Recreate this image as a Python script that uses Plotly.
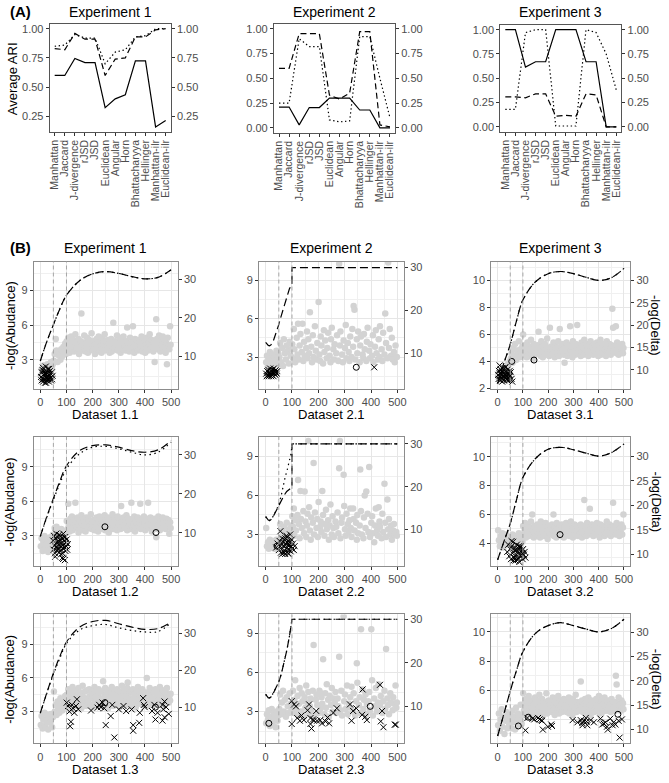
import plotly.graph_objects as go

W, H = 669, 783
FONT = "Liberation Sans, Arial, sans-serif"
TXT = "#4D4D4D"
TICKC = "#333333"
BORDER_A = "#555555"
BORDER_B = "#8C8C8C"
GRID = "#E6E6E6"
GRID_MINOR = "#F0F0F0"

# ---------------- data: panel (A) ----------------
METHODS = ["Manhattan", "Jaccard", "J-divergence", "rJSD", "JSD", "Euclidean",
           "Angular", "Horn", "Bhattacharyya", "Hellinger", "Manhattan-ilr", "Euclidean-ilr"]

EXP1_SOLID = [0.60, 0.60, 0.745, 0.71, 0.71, 0.325, 0.40, 0.435, 0.725, 0.725, 0.16, 0.215]
EXP1_DASHED = [0.83, 0.82, 0.96, 0.91, 0.91, 0.60, 0.74, 0.75, 0.93, 0.93, 0.99, 1.00]
EXP1_DOTTED = [0.85, 0.86, 0.95, 0.92, 0.92, 0.70, 0.80, 0.82, 0.93, 0.94, 1.00, 1.00]

EXP2_SOLID = [0.21, 0.21, 0.03, 0.205, 0.205, 0.30, 0.30, 0.30, 0.18, 0.18, 0.00, 0.00]
EXP2_DASHED = [0.60, 0.60, 0.95, 0.95, 0.95, 0.33, 0.29, 0.35, 0.97, 0.97, 0.03, 0.01]
EXP2_DOTTED = [0.25, 0.25, 0.90, 0.82, 0.82, 0.08, 0.06, 0.07, 0.92, 0.92, 0.50, 0.10]

EXP3_SOLID = [1.00, 1.00, 0.615, 0.67, 0.67, 1.00, 1.00, 1.00, 0.67, 0.67, 0.00, 0.00]
EXP3_DASHED = [0.31, 0.31, 0.30, 0.34, 0.34, 0.11, 0.12, 0.11, 0.34, 0.33, 0.00, 0.00]
EXP3_DOTTED = [0.18, 0.18, 0.97, 1.00, 1.00, 0.01, 0.01, 0.01, 1.00, 0.97, 0.75, 0.38]

# ---------------- data: panel (B) ----------------
THRESHOLDS = [50, 100]

GRAY_X = [2, 5, 9, 12, 16, 19, 23, 27, 30, 34, 38, 41, 45, 48,
          52, 55, 59, 62, 66, 69, 73, 77, 80, 84, 88, 91, 95, 98,
          101, 104, 107, 109, 112, 115, 118, 121, 123, 126, 129, 132, 134, 137, 140, 143, 146, 148, 151, 154,
          157, 159, 162, 165, 168, 171, 173, 176, 179, 182, 184, 187, 190, 193, 196, 198, 201, 204, 207, 209,
          212, 215, 218, 221, 223, 226, 229, 232, 234, 237, 240, 243, 246, 248, 251, 254, 257, 259, 262, 265,
          268, 271, 273, 276, 279, 282, 284, 287, 290, 293, 296, 298, 301, 304, 307, 309, 312, 315, 318, 321,
          323, 326, 329, 332, 334, 337, 340, 343, 346, 348, 351, 354, 357, 359, 362, 365, 368, 371, 373, 376,
          379, 382, 384, 387, 390, 393, 396, 398, 401, 404, 407, 409, 412, 415, 418, 421, 423, 426, 429, 432,
          434, 437, 440, 443, 446, 448, 451, 454, 457, 459, 462, 465, 468, 471, 473, 476, 479, 482, 484, 487,
          490, 493, 496, 498]

D11_GRAY = [1.6, 2.2, 1.4, 2.5, 1.9, 1.3, 2.1, 2.6, 1.7, 2.3, 2.5, 2.8, 2.2, 2.6,
            2.9, 3.5, 4.8, 3.8, 2.8, 3.4, 3.6, 3.0, 3.9, 3.3, 4.1, 3.7, 4.4, 3.5,
            4.6, 3.8, 4.9, 4.2, 3.6, 4.4, 5.0, 3.9, 4.3, 4.7, 3.7, 4.1, 5.2, 4.5, 3.9, 4.0, 4.8, 3.5, 4.3, 4.6,
            7.0, 4.2, 3.8, 4.5, 5.1, 4.0, 3.7, 4.4, 4.9, 3.6, 4.1, 4.7, 3.9, 4.3, 5.3, 4.0, 3.8, 4.6, 4.2, 3.5,
            4.4, 4.8, 3.9, 4.1, 5.0, 3.7, 4.5, 4.2, 3.6, 4.9, 4.0, 4.3, 5.2, 3.8, 4.6, 4.1, 3.9, 4.7, 4.4, 3.6,
            4.2, 4.8, 3.7, 4.5, 6.2, 4.0, 3.9, 4.6, 4.3, 5.1, 3.8, 4.4, 4.0, 4.9, 3.6, 4.2, 4.7, 3.9, 5.0, 4.3,
            4.1, 3.8, 4.6, 5.8, 4.0, 4.4, 3.7, 4.9, 4.2, 3.9, 4.5, 5.9, 4.1, 3.6, 4.8, 4.3, 4.0, 4.7, 3.8, 4.4,
            4.6, 3.9, 4.2, 5.0, 3.7, 4.4, 4.1, 4.8, 3.6, 4.3, 4.9, 4.0, 3.8, 4.5, 5.2, 4.2, 3.9, 4.7, 4.1, 3.7,
            4.5, 2.8, 4.2, 6.5, 4.8, 3.9, 4.4, 5.1, 4.0, 3.7, 4.6, 4.3, 5.0, 3.8, 4.1, 4.7, 3.6, 4.4, 2.6, 4.9,
            4.2, 3.9, 5.9, 4.3]
D12_GRAY = [2.1, 2.8, 1.7, 2.5, 3.0, 1.9, 2.3, 2.7, 1.6, 2.4, 2.9, 2.0, 2.6, 3.1,
            2.4, 3.7, 2.2, 3.8, 2.6, 3.5, 2.0, 2.9, 3.6, 2.3, 3.1, 2.7, 3.4, 2.5,
            4.3, 3.6, 5.8, 4.0, 3.4, 4.5, 3.9, 4.7, 3.5, 4.1, 4.4, 3.7, 5.9, 4.2, 3.8, 4.6, 3.3, 4.0, 4.3, 3.6,
            4.8, 4.1, 3.5, 4.4, 3.9, 4.2, 3.4, 4.6, 4.0, 3.7, 4.5, 3.8, 4.3, 4.9, 3.6, 4.1, 3.9, 4.4, 3.5, 4.2,
            3.8, 4.6, 4.0, 3.4, 4.3, 4.7, 3.7, 4.1, 3.9, 4.5, 3.6, 4.2, 4.8, 3.5, 4.0, 4.4, 3.8, 4.6, 3.3, 4.1,
            4.4, 3.7, 4.2, 4.9, 3.6, 4.0, 4.5, 3.8, 4.3, 3.5, 4.7, 4.1, 3.9, 4.4, 3.6, 5.6, 4.2, 3.8, 4.6, 4.0,
            3.7, 4.3, 4.8, 3.5, 4.1, 4.5, 3.9, 4.2, 3.6, 5.9, 4.4, 3.8, 4.0, 4.7, 3.4, 4.3, 4.1, 3.7, 4.6, 3.9,
            4.2, 5.8, 3.6, 4.4, 4.0, 3.8, 4.7, 4.1, 3.5, 4.3, 4.5, 3.9, 5.9, 4.2, 3.7, 4.6, 4.0, 3.4, 4.4, 3.8,
            4.1, 4.5, 3.6, 2.9, 4.3, 3.9, 4.7, 4.0, 3.5, 4.2, 4.4, 3.7, 4.6, 4.1, 3.8, 4.3, 3.6, 4.5, 4.0, 3.9,
            4.4, 3.2, 4.2, 3.7]
D13_GRAY = [1.8, 2.6, 1.5, 2.3, 2.9, 1.7, 2.1, 2.7, 1.4, 2.4, 2.0, 2.8, 1.6, 2.5,
            4.8, 3.0, 3.6, 2.7, 3.9, 3.3, 2.9, 4.2, 3.5, 3.1, 4.0, 3.7, 4.4, 3.4,
            4.5, 3.4, 5.0, 4.1, 3.7, 4.8, 3.2, 4.3, 5.2, 3.9, 4.6, 3.5, 4.2, 4.9, 3.8, 4.4, 5.1, 3.6, 4.0, 4.7,
            3.3, 4.5, 5.3, 4.0, 3.7, 4.8, 4.2, 3.5, 4.9, 4.1, 3.9, 5.0, 4.4, 3.6, 4.7, 4.2, 3.4, 4.6, 5.2, 3.8,
            4.3, 4.9, 3.6, 4.5, 5.0, 3.9, 4.2, 3.5, 4.8, 4.1, 5.7, 3.7, 4.4, 5.1, 3.8, 4.6, 4.0, 3.3, 4.9, 4.3,
            3.8, 4.7, 5.2, 4.0, 3.5, 4.4, 4.9, 3.9, 4.2, 5.0, 3.6, 4.5, 4.1, 3.4, 4.8, 4.3, 5.3, 3.7, 4.6, 4.0,
            4.9, 3.6, 4.4, 5.1, 5.6, 3.9, 4.7, 4.2, 3.5, 4.8, 4.0, 5.0, 3.7, 4.3, 4.6, 3.4, 4.9, 4.1, 5.2, 3.8,
            4.4, 3.7, 4.8, 4.1, 5.0, 3.6, 4.5, 4.2, 3.9, 4.7, 6.0, 4.0, 3.5, 4.6, 5.1, 4.3, 3.8, 4.9, 4.1, 3.6,
            4.7, 4.2, 5.0, 3.9, 4.4, 3.6, 4.8, 4.1, 5.2, 3.7, 4.5, 4.0, 4.9, 3.5, 4.3, 4.7, 3.9, 4.6, 5.1, 4.2,
            3.8, 4.4, 4.0, 4.6]
D21_GRAY = [2.6, 3.1, 2.3, 2.9, 3.4, 2.5, 2.8, 3.2, 2.4, 3.0, 2.7, 3.5, 2.5, 3.3,
            3.0, 4.1, 2.6, 3.7, 2.3, 4.4, 3.3, 2.8, 3.9, 3.5, 2.5, 4.2, 3.1, 3.6,
            4.0, 2.9, 5.2, 3.6, 2.6, None, 4.5, 3.2, 5.6, 2.8, 3.9, 4.8, None, 3.4, 5.6, 2.7, 4.2, 3.1, None, 3.7,
            5.0, 2.9, 4.4, 3.3, 6.5, None, 3.8, 2.6, 4.7, 3.0, None, 5.4, 3.5, 2.8, 4.1, None, 7.3, 3.2, 2.7, 4.6,
            3.9, None, 2.5, 5.1, 3.4, 4.3, None, 2.9, 3.7, 4.9, None, 3.1, 2.6, 4.4, 5.3, None, 3.6, 2.8, 4.0, None,
            3.3, 4.7, None, 2.7, 10.3, 3.9, 5.0, None, 3.2, 2.6, 4.3, None, 3.7, 5.5, 2.9, None, 4.1, 3.4, 2.7, 4.6,
            None, 3.0, 5.2, 3.8, 7.0, 6.7, 2.8, None, 4.4, 3.3, 5.0, None, 2.6, 3.9, 4.6, None, 3.2, 2.9, 4.8, 3.6,
            None, 2.7, 4.2, 5.3, None, 3.5, 2.9, 4.0, None, 3.1, 4.7, 2.6, None, 3.8, 5.1, 3.3, None, 2.8, 4.4, 3.0,
            5.4, None, 3.6, 2.7, 4.9, None, 3.2, 6.4, 4.1, None, 2.9, 10.4, 3.7, 5.2, None, 3.1, 4.5, 2.8, None, 3.4,
            2.6, 3.9, None, 3.0]
D22_GRAY = [3.5, 2.1, 2.4, 1.9, 2.6, 2.2, 2.0, 2.5, 2.3, 1.9, 2.1, 2.6, 2.2, 2.4,
            2.6, 3.8, 2.2, 3.3, 2.9, 3.6, 2.4, 3.1, 3.9, 2.7, 3.4, 2.3, 3.0, 3.7,
            4.4, 3.6, 5.0, 2.9, 4.1, 3.3, None, 4.5, 7.2, 3.8, 2.7, 6.35, 4.2, 3.5, None, 4.8, 3.1, 6.3, 4.0, 2.8,
            3.7, 4.6, 10.2, 5.1, 3.3, 2.6, 4.3, None, 3.9, 8.5, 3.0, 4.7, None, 3.5, 4.2, 2.8, 5.5, None, 3.6, 4.0,
            3.2, 6.35, 4.5, None, 2.9, 3.8, 4.9, 3.4, None, 4.1, 2.6, 3.7, 5.3, None, 3.0, 4.4, 3.5, 2.8, None, 4.0,
            3.6, None, 4.7, 3.1, 8.1, 10.2, 2.7, 3.9, 4.3, None, 7.6, 5.2, 3.4, 2.9, 4.6, None, 3.8, 3.2, 4.1, 5.0,
            3.5, 2.8, None, 5.0, 4.2, 3.3, None, 3.9, 2.6, 4.5, 3.1, None, 3.7, 8.0, 4.8, 3.0, None, 2.7, 4.3, 6.0,
            3.5, 6.3, None, 4.6, 3.2, 8.2, 2.8, None, 3.9, 4.4, 3.1, None, 2.4, 3.7, 5.0, None, 3.3, 2.9, 5.1, 4.0,
            3.6, None, 2.7, 4.6, 3.2, None, 6.9, 3.9, 2.8, None, 5.7, 3.4, 4.2, None, 3.0, 3.7, 2.6, None, 3.3, 3.8,
            3.0, None, 3.2, 2.9]
D23_GRAY = [2.1, 2.8, 2.4, 3.1, 1.9, 2.6, 3.2, 2.2, 2.9, 2.5, 1.8, 3.0, 2.3, 2.7,
            3.2, 4.3, 2.8, 3.7, 4.6, 3.0, 3.9, 2.6, 4.1, 3.4, 2.9, 4.4, 3.6, 3.1,
            3.5, 4.6, 2.9, 3.9, 5.4, 3.2, None, 4.2, 2.7, 3.6, 4.8, None, 3.0, 4.4, 3.8, None, 2.6, 4.1, 3.3, 5.0,
            None, 3.7, 4.5, 2.8, 3.4, 4.0, 3.1, None, 4.6, 8.1, 2.7, None, 3.9, 4.3, 3.5, None, 2.9, 4.6, 3.2, 4.4,
            4.1, 3.6, 7.0, None, 2.8, 4.4, 3.3, 5.1, None, 3.9, 2.6, 4.2, None, 3.5, 4.8, 3.0, 4.0, None, 3.7, 4.5,
            2.9, None, 4.0, 3.4, 7.2, None, 3.1, 4.6, 2.7, None, 10.3, 3.8, 4.3, 3.2, None, 5.0, 2.8, 3.6, None, 4.1,
            3.3, 4.9, None, 3.0, 4.4, None, 2.7, 3.8, 6.7, 5.2, None, 3.5, 4.1, 2.9, 9.3, None, 4.7, 3.2, 3.9, None,
            4.3, 2.8, 3.6, None, 3.8, 4.5, 3.1, None, 9.3, 5.4, 2.7, None, 4.0, 3.4, 4.8, None, 3.0, 3.7, 5.1, None,
            3.5, 4.2, None, 2.9, 3.8, None, 4.6, 3.2, 7.8, None, 4.0, 3.5, 2.8, None, 4.4, 3.7, None, 3.1, 4.1, 3.6,
            None, 5.0, 3.3, 3.7]
D31_GRAY = [2.9, 3.2, 2.7, 3.1, 3.4, 2.8, 3.0, 3.3, 2.6, 3.5, 3.1, 3.8, 3.2, 4.0,
            4.2, 4.6, 3.9, 5.0, 4.4, 5.3, 4.1, 4.8, 4.5, 5.5, 4.3, 4.9, 4.7, 5.1,
            6.0, 4.8, 5.2, 4.5, 5.0, 4.3, 5.4, 4.7, 5.1, 4.4, 4.9, 5.6, 4.6, 5.0, 4.2, 5.3, 4.8, 4.5, 5.1, 4.7,
            4.9, 5.2, 6.2, 4.6, 5.0, 4.4, 5.5, 4.8, 4.3, 5.1, 4.7, 5.3, 4.5, 4.9, 5.7, 4.6, 5.0, 4.4, 6.5, 4.8,
            5.1, 4.5, 4.9, 5.4, 4.7, 4.3, 5.2, 4.8, 5.0, 4.6, 5.5, 4.4, 6.4, 4.9, 5.1, 4.6, 4.8, 5.3, 4.5, 3.9,
            5.0, 4.7, 5.4, 4.4, 4.9, 5.2, 4.6, 6.6, 4.8, 5.1, 4.3, 5.5, 4.7, 5.0, 4.5, 5.3, 4.9, 6.7, 4.6, 5.2,
            4.8, 5.0, 4.4, 5.4, 4.7, 5.1, 4.5, 5.6, 4.9, 4.6, 5.3, 4.8, 5.0, 4.4, 5.2, 4.7, 5.5, 4.9, 4.6, 5.1,
            4.5, 5.3, 4.8, 5.0, 4.6, 5.4, 4.9, 4.4, 5.2, 4.7, 5.6, 4.5, 5.0, 4.8, 5.3, 4.6, 5.1, 4.9, 4.4, 5.5,
            4.8, 5.0, 4.6, 5.3, 4.9, 4.5, 5.2, 7.9, 6.5, 4.7, 5.1, 4.8, 6.6, 4.6, 5.4, 4.9, 4.5, 5.2, 4.7, 5.0,
            4.8, 5.3, 4.6, 5.0]
D32_GRAY = [4.9, 4.2, 3.8, 4.5, 4.0, 4.7, 3.7, 4.3, 4.1, 4.6, 3.9, 4.4, 4.0, 4.2,
            4.4, 3.8, 4.6, 4.1, 3.7, 4.5, 4.0, 4.3, 3.9, 4.7, 4.2, 3.8, 4.5, 4.1,
            5.2, 4.6, 4.9, 5.4, 4.4, 5.0, 4.7, 5.3, 4.5, 5.1, 4.8, 5.5, 4.6, 6.0, 4.9, 4.4, 5.2, 4.7, 5.0, 4.5,
            5.3, 4.8, 4.6, 5.1, 4.4, 5.5, 4.9, 4.7, 5.2, 4.5, 5.0, 4.8, 5.4, 4.6, 5.1, 4.3, 4.9, 5.2, 4.7, 5.0,
            4.6, 5.3, 4.9, 6.0, 4.5, 5.1, 4.8, 4.4, 5.4, 4.7, 5.0, 4.6, 5.2, 4.9, 4.5, 5.3, 4.8, 5.0, 4.4, 5.1,
            4.7, 5.4, 4.9, 4.6, 5.2, 4.8, 4.5, 5.0, 5.5, 4.7, 5.1, 4.4, 4.9, 5.3, 4.6, 5.0, 4.8, 5.2, 4.5, 4.9,
            5.1, 4.6, 5.3, 4.8, 4.4, 5.0, 4.7, 7.0, 5.2, 4.9, 4.5, 5.4, 4.8, 5.1, 4.6, 6.4, 5.0, 4.7, 5.3, 4.9,
            4.5, 5.2, 4.8, 5.0, 4.6, 5.4, 4.9, 4.7, 5.1, 4.4, 5.3, 4.8, 5.0, 4.6, 5.2, 4.9, 4.5, 5.1, 4.7, 5.5,
            4.8, 5.0, 4.6, 5.3, 4.9, 4.5, 5.1, 4.7, 6.8, 5.2, 4.8, 5.0, 4.6, 5.4, 4.9, 4.7, 5.2, 4.5, 5.0, 4.8,
            5.3, 4.6, 5.1, 6.0]
D33_GRAY = [3.6, 4.4, 3.2, 4.0, 4.7, 3.5, 4.2, 3.0, 3.9, 4.5, 3.4, 4.1, 3.7, 4.3,
            4.0, 3.4, 4.6, 3.8, 4.2, 3.3, 4.8, 3.9, 4.4, 3.6, 4.1, 5.0, 3.7, 4.3,
            5.8, 4.6, 5.1, 4.3, 5.4, 4.8, 5.0, 4.4, 5.6, 4.7, 5.2, 4.5, 4.9, 5.3, 4.2, 5.0, 4.7, 5.5, 4.6, 5.1,
            4.4, 5.3, 4.8, 5.7, 4.5, 5.0, 4.9, 5.4, 4.3, 5.2, 4.7, 5.1, 4.6, 5.8, 4.4, 4.9, 5.3, 4.6, 5.0, 4.8,
            5.2, 4.5, 5.5, 4.7, 5.0, 4.3, 5.4, 4.8, 5.1, 4.6, 5.6, 4.4, 5.0, 4.9, 5.3, 4.5, 5.1, 4.7, 5.4, 4.6,
            4.9, 5.3, 4.5, 5.0, 4.8, 5.5, 4.4, 5.2, 4.7, 5.1, 4.3, 5.4, 4.9, 4.6, 5.0, 5.7, 4.5, 5.2, 4.8, 5.0,
            4.6, 5.1, 6.6, 4.8, 5.3, 4.5, 5.0, 4.7, 5.4, 4.4, 5.2, 4.9, 4.6, 5.5, 4.8, 5.0, 4.3, 5.3, 4.7, 5.1,
            4.9, 4.5, 5.2, 4.7, 5.4, 4.6, 5.0, 4.8, 5.6, 4.4, 5.1, 4.9, 5.3, 4.5, 5.0, 4.7, 5.5, 4.6, 5.2, 4.8,
            5.0, 4.6, 5.3, 4.9, 5.1, 4.5, 5.4, 4.7, 5.0, 4.8, 5.2, 4.6, 7.0, 6.4, 5.1, 4.9, 5.5, 4.7, 5.0, 4.6,
            5.3, 4.8, 5.1, 4.7]

# black crosses and open circles (x, -log(Abudance))
D11_CROSS_X = [3, 5, 6, 8, 9, 11, 12, 14, 15, 17, 18, 20, 21, 23, 24, 26, 27, 29, 30, 32, 33, 35, 36, 38, 39, 41, 42, 44, 45, 47, 10, 22, 34, 16, 28]
D11_CROSS_Y = [1.5, 1.2, 1.9, 1.4, 2.1, 1.1, 1.7, 1.3, 2.0, 1.6, 1.0, 1.8, 2.4, 1.4, 1.2, 1.9, 1.5, 2.2, 1.3, 1.7, 1.1, 1.6, 2.0, 1.4, 1.8, 1.2, 1.5, 1.9, 1.3, 1.6, 2.3, 1.0, 2.2, 1.8, 1.4]
D11_RING_X = []
D11_RING_Y = []

D12_CROSS_X = [49, 51, 53, 55, 56, 58, 60, 61, 63, 65, 66, 68, 70, 71, 73, 75, 76, 78, 80, 81, 83, 85, 86, 88, 90, 91, 93, 95, 96, 98, 100, 101, 103, 105, 57, 64, 72, 79, 87, 94, 84, 92]
D12_CROSS_Y = [2.6, 1.8, 3.0, 2.2, 1.5, 2.8, 2.0, 3.2, 1.7, 2.5, 2.9, 1.9, 2.3, 3.1, 1.6, 2.7, 2.1, 3.0, 1.8, 2.4, 2.8, 1.5, 2.2, 3.2, 1.9, 2.6, 2.0, 2.9, 1.7, 2.4, 2.1, 2.7, 1.8, 2.3, 1.2, 2.0, 2.5, 1.4, 1.0, 0.9, 1.1, 2.9]
D12_RING_X = [247, 442]
D12_RING_Y = [3.8, 3.3]

D13_CROSS_X = [101, 106, 111, 114, 117, 121, 125, 130, 136, 140, 145, 194, 219, 225, 232, 238, 244, 250, 269, 275, 283, 300, 318, 328, 349, 355, 355, 378, 380, 393, 396, 399, 427, 436, 440, 448, 467, 470, 467, 475, 475, 481, 491]
D13_CROSS_Y = [3.8, 3.5, 3.0, 1.7, 2.1, 3.6, 3.3, 2.9, 3.5, 4.1, 3.2, 3.1, 3.35, 3.6, 3.4, 3.8, 3.3, 1.8, 2.6, 3.6, 0.7, 3.2, 3.5, 3.05, 3.2, 1.8, 1.3, 2.0, 2.9, 4.2, 3.6, 3.4, 3.05, 3.6, 2.3, 2.9, 3.6, 3.2, 2.2, 2.5, 3.9, 3.4, 2.8]
D13_RING_X = [247, 440]
D13_RING_Y = [3.8, 3.4]

D21_CROSS_X = [2, 4, 6, 8, 10, 12, 13, 15, 17, 19, 21, 22, 24, 26, 28, 30, 31, 33, 35, 37, 39, 40, 42, 44, 412]
D21_CROSS_Y = [1.7, 1.5, 1.9, 1.6, 2.0, 1.5, 1.8, 1.6, 2.1, 1.7, 1.5, 1.9, 1.6, 2.0, 1.8, 1.5, 2.1, 1.7, 1.9, 1.6, 2.0, 1.8, 1.7, 1.9, 2.2]
D21_RING_X = [20, 36, 344]
D21_RING_Y = [1.9, 1.8, 2.2]

D22_CROSS_X = [40, 45, 50, 53, 56, 58, 60, 62, 64, 66, 68, 70, 72, 74, 76, 78, 80, 82, 84, 86, 88, 90, 92, 93, 95, 97, 99, 101, 104, 107, 110, 63, 71, 79, 87, 94, 83, 75]
D22_CROSS_Y = [2.0, 2.3, 1.8, 2.5, 3.25, 1.6, 2.2, 2.7, 1.9, 2.4, 1.7, 2.1, 2.6, 1.5, 2.3, 1.9, 2.8, 2.0, 1.6, 2.5, 2.2, 1.8, 2.4, 3.0, 1.7, 2.1, 2.6, 1.9, 2.3, 1.8, 2.1, 1.5, 1.6, 2.9, 1.5, 2.0, 2.4, 2.7]
D22_RING_X = [43]
D22_RING_Y = [2.1]

D23_CROSS_X = [99, 108, 115, 99, 120, 130, 136, 145, 159, 165, 170, 174, 180, 192, 195, 207, 214, 227, 235, 241, 257, 270, 320, 326, 332, 344, 368, 366, 378, 384, 434, 437, 442, 447, 490, 494, 170, 183]
D23_CROSS_Y = [3.8, 3.55, 3.4, 2.05, 2.5, 2.3, 2.7, 2.35, 3.1, 3.55, 2.05, 1.7, 2.4, 3.05, 2.3, 2.35, 2.1, 2.25, 2.55, 2.1, 2.9, 3.25, 3.55, 2.3, 3.05, 3.25, 4.7, 2.75, 2.6, 2.35, 5.05, 2.25, 3.05, 1.8, 2.0, 2.0, 2.5, 2.3]
D23_RING_X = [12, 397]
D23_RING_Y = [2.1, 3.4]

D31_CROSS_X = [2, 4, 5, 7, 9, 10, 12, 14, 15, 17, 19, 20, 22, 24, 25, 27, 29, 30, 32, 34, 35, 37, 39, 40, 42, 44, 45, 47, 49, 52, 55, 58, 8, 18, 28, 38, 48, 13, 23, 33]
D31_CROSS_Y = [3.0, 2.7, 3.3, 2.9, 3.1, 2.6, 3.4, 2.8, 3.0, 3.2, 2.7, 3.5, 2.9, 3.1, 2.6, 3.3, 3.0, 2.8, 3.6, 2.9, 3.2, 2.7, 3.0, 3.4, 2.8, 3.1, 2.6, 3.0, 2.9, 3.2, 2.7, 2.5, 3.7, 2.5, 3.5, 2.6, 3.3, 3.1, 2.9, 3.0]
D31_RING_X = [56, 144]
D31_RING_Y = [4.0, 4.1]

D32_CROSS_X = [38, 42, 46, 50, 53, 56, 59, 61, 64, 66, 69, 71, 74, 76, 79, 81, 84, 86, 89, 91, 94, 96, 99, 101, 104, 107, 110, 55, 63, 72, 80, 88, 97, 68, 85]
D32_CROSS_Y = [3.4, 3.9, 3.1, 3.6, 2.9, 3.8, 3.3, 4.1, 3.0, 3.5, 3.7, 2.8, 3.2, 3.9, 3.4, 3.0, 3.6, 2.7, 3.3, 3.8, 3.1, 3.5, 2.9, 3.6, 3.2, 3.4, 3.0, 4.15, 2.8, 3.5, 2.9, 3.7, 3.3, 3.0, 3.8]
D32_RING_X = [247]
D32_RING_Y = [4.6]

D33_CROSS_X = [110, 118, 138, 160, 166, 173, 179, 199, 212, 297, 316, 329, 336, 342, 349, 355, 368, 381, 407, 414, 427, 433, 436, 446, 459, 466, 479, 492, 483, 145, 176, 215, 335, 352, 420, 455]
D33_CROSS_Y = [3.25, 4.1, 4.05, 4.1, 4.0, 3.95, 3.3, 3.5, 3.65, 3.95, 3.8, 3.95, 3.6, 3.9, 4.1, 3.6, 3.95, 3.8, 4.05, 3.65, 3.8, 3.5, 3.3, 4.05, 3.8, 3.65, 3.9, 4.0, 2.75, 4.0, 3.9, 3.55, 3.75, 3.85, 3.7, 3.6]
D33_RING_X = [82, 121, 476]
D33_RING_Y = [3.55, 4.15, 4.35]

# smooth curves, secondary axis -log(Delta)
CURVE_X = [0, 25, 50, 75, 100, 150, 200, 250, 300, 350, 400, 450, 500]
D11_DASH = [8.7, 13.8, 18.2, 22.4, 25.9, 29.7, 31.5, 32.1, 31.6, 30.8, 30.2, 30.6, 32.6]
D11_DOT = [8.7, 13.8, 18.2, 22.4, 25.9, 29.7, 31.5, 32.1, 31.6, 30.8, 30.2, 30.6, 32.6]
D12_DASH = [9.1, 14.2, 18.8, 23.3, 27.2, 31.1, 32.4, 32.6, 32.0, 31.1, 30.7, 31.3, 33.7]
D12_DOT = [9.1, 14.0, 18.5, 22.7, 26.4, 30.3, 32.0, 32.2, 31.6, 30.7, 30.0, 30.7, 33.3]
D13_DASH = [8.5, 14.0, 19.2, 23.8, 27.6, 31.6, 33.1, 33.4, 32.5, 31.6, 31.0, 31.2, 32.9]
D13_DOT = [8.5, 13.8, 18.9, 23.3, 27.2, 30.8, 32.0, 32.3, 31.4, 30.7, 30.3, 30.4, 32.8]
D31_DASH = [6.9, 11.5, 15.7, 21.0, 25.6, 29.7, 31.5, 32.0, 31.5, 30.7, 30.0, 30.6, 32.7]
D31_DOT = [6.9, 11.5, 15.7, 21.0, 25.6, 29.7, 31.5, 32.0, 31.5, 30.7, 30.0, 30.6, 32.7]
D32_DASH = [8.85, 12.6, 16.3, 21.2, 25.7, 29.6, 31.5, 31.9, 31.4, 30.7, 30.1, 30.8, 32.6]
D32_DOT = [8.85, 12.6, 16.3, 21.2, 25.7, 29.6, 31.5, 31.9, 31.4, 30.7, 30.1, 30.8, 32.6]
D33_DASH = [8.6, 13.2, 17.9, 22.2, 26.0, 29.8, 31.4, 32.0, 31.4, 30.7, 30.1, 30.8, 32.7]
D33_DOT = [8.6, 13.2, 17.9, 22.2, 26.0, 29.8, 31.4, 32.0, 31.4, 30.7, 30.1, 30.8, 32.7]

D21_DASH_X = [0, 5, 10, 15, 20, 30, 40, 50, 60, 70, 80, 90, 97, 100, 100, 500]
D21_DASH = [12.5, 12.0, 11.8, 11.7, 11.9, 13.0, 14.7, 16.7, 18.9, 21.1, 23.2, 25.0, 25.9, 26.1, 30, 30]
D22_DASH_X = [0, 5, 10, 15, 20, 30, 40, 50, 60, 70, 80, 90, 99, 100, 100, 500]
D22_DASH = [13.0, 12.5, 12.2, 12.1, 12.3, 13.2, 14.4, 15.7, 16.9, 18.0, 18.9, 19.5, 19.8, 19.8, 30, 30]
D22_DOT_X = [0, 5, 10, 15, 20, 30, 40, 50, 60, 68, 75, 81, 86, 91, 97, 100, 500]
D22_DOT = [13.0, 12.5, 12.2, 12.1, 12.3, 13.2, 14.4, 15.8, 18.2, 21.0, 22.5, 23.7, 25.0, 26.4, 27.9, 30, 30]
D23_DASH_X = [0, 5, 10, 15, 20, 30, 40, 50, 60, 70, 80, 90, 99, 100, 500]
D23_DASH = [12.8, 12.3, 12.0, 12.0, 12.2, 13.2, 14.4, 15.7, 17.6, 20.0, 22.8, 26.0, 29.0, 30, 30]
D23_DOT_X = [0, 5, 10, 15, 20, 30, 40, 50, 60, 70, 80, 90, 99, 100, 500]
D23_DOT = [12.8, 12.3, 12.0, 12.0, 12.2, 13.2, 14.4, 15.7, 17.6, 20.0, 22.8, 26.0, 29.0, 30, 30]

# ---------------- helpers ----------------
def axname(letter, n):
    return f"{letter}axis" if n == 1 else f"{letter}axis{n}"


def axref(letter, n):
    return letter if n == 1 else f"{letter}{n}"


def dx(a, b):
    return [a / W, b / W]


def dy(top, bot):
    return [1 - bot / H, 1 - top / H]


fig = go.Figure()
lay = {}
anns = []
shapes = []


def add_text(text, px, py, size=12.5, angle=0, color="black", bold=False, xanchor="center"):
    anns.append(dict(text=f"<b>{text}</b>" if bold else text, x=px / W, y=1 - py / H,
                     xref="paper", yref="paper", showarrow=False, textangle=angle,
                     xanchor=xanchor, yanchor="middle",
                     font=dict(family=FONT, size=size, color=color)))


TICKFONT = dict(family=FONT, size=11, color=TXT)

# ---------------- panel A ----------------
A_SERIES = [(EXP1_SOLID, EXP1_DASHED, EXP1_DOTTED),
            (EXP2_SOLID, EXP2_DASHED, EXP2_DOTTED),
            (EXP3_SOLID, EXP3_DASHED, EXP3_DOTTED)]
A_BOX = [(48, 170, 23, 132), (274, 396, 23, 133), (502, 624, 24, 132)]
A_RANGE = [[0.118, 1.042], [-0.05, 1.05], [-0.05, 1.05]]
A_TICKS = [[0.25, 0.5, 0.75, 1.0], [0, 0.25, 0.5, 0.75, 1.0], [0, 0.25, 0.5, 0.75, 1.0]]
A_DASH = ["solid", "6px,3.5px", "1.4px,2.6px"]

for i in range(3):
    xn, yln, yrn = i + 1, 2 * i + 1, 2 * i + 2
    x0, x1, t, b = A_BOX[i]
    for vals, dash in zip(A_SERIES[i], A_DASH):
        fig.add_trace(go.Scatter(x=METHODS, y=vals, mode="lines",
                                 line=dict(color="black", width=1.2, dash=dash),
                                 xaxis=axref("x", xn), yaxis=axref("y", yln),
                                 showlegend=False, hoverinfo="skip"))
    fig.add_trace(go.Scatter(x=[METHODS[0]], y=[None], mode="lines", xaxis=axref("x", xn),
                             yaxis=axref("y", yrn), showlegend=False, hoverinfo="skip"))
    lay[axname("x", xn)] = dict(domain=dx(x0, x1), anchor=axref("y", yln), type="category",
                                categoryorder="array", categoryarray=METHODS, range=[-0.5, 11.5],
                                tickmode="array", tickvals=METHODS, ticktext=METHODS,
                                tickangle=-90, ticks="outside", ticklen=3, tickcolor=TICKC,
                                showline=True, mirror=True, linecolor=BORDER_A, linewidth=1,
                                showgrid=False, zeroline=False,
                                tickfont=dict(family=FONT, size=10.5, color=TXT))
    common = dict(range=A_RANGE[i], tickvals=A_TICKS[i], ticktext=[f"{v:.2f}" for v in A_TICKS[i]],
                  ticks="outside", ticklen=3, tickcolor=TICKC, showgrid=False, zeroline=False,
                  tickfont=TICKFONT)
    lay[axname("y", yln)] = dict(domain=dy(t, b), anchor=axref("x", xn), showline=True, mirror=True,
                                 linecolor=BORDER_A, linewidth=1, **common)
    lay[axname("y", yrn)] = dict(overlaying=axref("y", yln), side="right", anchor=axref("x", xn),
                                 showline=False, **common)
    add_text(f"Experiment {i + 1}", (x0 + x1) / 2, 11, size=14)

add_text("(A)", 6, 11, size=15, bold=True, xanchor="left")
add_text("Average ARI", 10, 78, size=13, angle=-90)

# ---------------- panel B ----------------
EXP12_TICKS = [3, 6, 9]
EXP12_MINOR = [1.5, 4.5, 7.5, 10.5]
EXP3_TICKS = [2, 4, 6, 8, 10]
EXP3_MINOR = [3, 5, 7, 9, 11]
RIGHT12_TICKS = [10, 20, 30]
RIGHT3_TICKS = [10, 15, 20, 25, 30]

PANELS = [
    dict(name="Dataset 1.1", gray=D11_GRAY, cx=D11_CROSS_X, cy=D11_CROSS_Y, ox=D11_RING_X, oy=D11_RING_Y,
         curves=[(CURVE_X, D11_DASH, "dash"), (CURVE_X, D11_DOT, "dot")], shape="spline",
         yl=[0.5, 11.5], yr=[1.5, 34.7], yt=EXP12_TICKS, ym=EXP12_MINOR, rt=RIGHT12_TICKS),
    dict(name="Dataset 2.1", gray=D21_GRAY, cx=D21_CROSS_X, cy=D21_CROSS_Y, ox=D21_RING_X, oy=D21_RING_Y,
         curves=[(D21_DASH_X, D21_DASH, "dash")], shape="linear",
         yl=[0.54, 10.46], yr=[1.7, 31.4], yt=EXP12_TICKS, ym=EXP12_MINOR, rt=RIGHT12_TICKS),
    dict(name="Dataset 3.1", gray=D31_GRAY, cx=D31_CROSS_X, cy=D31_CROSS_Y, ox=D31_RING_X, oy=D31_RING_Y,
         curves=[(CURVE_X, D31_DASH, "dash"), (CURVE_X, D31_DOT, "dot")], shape="spline",
         yl=[1.99, 11.4], yr=[5.8, 34.2], yt=EXP3_TICKS, ym=EXP3_MINOR, rt=RIGHT3_TICKS),
    dict(name="Dataset 1.2", gray=D12_GRAY, cx=D12_CROSS_X, cy=D12_CROSS_Y, ox=D12_RING_X, oy=D12_RING_Y,
         curves=[(CURVE_X, D12_DASH, "dash"), (CURVE_X, D12_DOT, "dot")], shape="spline",
         yl=[0.4, 11.6], yr=[1.5, 34.6], yt=EXP12_TICKS, ym=EXP12_MINOR, rt=RIGHT12_TICKS),
    dict(name="Dataset 2.2", gray=D22_GRAY, cx=D22_CROSS_X, cy=D22_CROSS_Y, ox=D22_RING_X, oy=D22_RING_Y,
         curves=[(D22_DASH_X, D22_DASH, "dash"), (D22_DOT_X, D22_DOT, "dot")], shape="linear",
         yl=[0.58, 10.5], yr=[1.5, 31.6], yt=EXP12_TICKS, ym=EXP12_MINOR, rt=RIGHT12_TICKS),
    dict(name="Dataset 3.2", gray=D32_GRAY, cx=D32_CROSS_X, cy=D32_CROSS_Y, ox=D32_RING_X, oy=D32_RING_Y,
         curves=[(CURVE_X, D32_DASH, "dash"), (CURVE_X, D32_DOT, "dot")], shape="spline",
         yl=[2.43, 11.36], yr=[7.6, 34.0], yt=EXP3_TICKS, ym=EXP3_MINOR, rt=RIGHT3_TICKS),
    dict(name="Dataset 1.3", gray=D13_GRAY, cx=D13_CROSS_X, cy=D13_CROSS_Y, ox=D13_RING_X, oy=D13_RING_Y,
         curves=[(CURVE_X, D13_DASH, "dash"), (CURVE_X, D13_DOT, "dot")], shape="spline",
         yl=[0.18, 11.65], yr=[0.4, 35.0], yt=EXP12_TICKS, ym=EXP12_MINOR, rt=RIGHT12_TICKS),
    dict(name="Dataset 2.3", gray=D23_GRAY, cx=D23_CROSS_X, cy=D23_CROSS_Y, ox=D23_RING_X, oy=D23_RING_Y,
         curves=[(D23_DASH_X, D23_DASH, "dash"), (D23_DOT_X, D23_DOT, "dot")], shape="linear",
         yl=[0.57, 10.44], yr=[1.6, 31.1], yt=EXP12_TICKS, ym=EXP12_MINOR, rt=RIGHT12_TICKS),
    dict(name="Dataset 3.3", gray=D33_GRAY, cx=D33_CROSS_X, cy=D33_CROSS_Y, ox=D33_RING_X, oy=D33_RING_Y,
         curves=[(CURVE_X, D33_DASH, "dash"), (CURVE_X, D33_DOT, "dot")], shape="spline",
         yl=[2.36, 11.2], yr=[7.1, 33.7], yt=EXP3_TICKS, ym=EXP3_MINOR, rt=RIGHT3_TICKS),
]
B_COLS = [(32, 177), (259, 405), (493, 633)]
B_ROWS = [(263, 391), (440, 570), (619, 749)]
B_DASH = {"dash": "8px,4px", "dot": "1.5px,3.5px"}
X_TICKS = [0, 100, 200, 300, 400, 500]
X_MINOR = [50, 150, 250, 350, 450]

for k, p in enumerate(PANELS):
    r, c = divmod(k, 3)
    xn, yln, yrn = 4 + k, 7 + 2 * k, 8 + 2 * k
    xr, ylr, yrr = axref("x", xn), axref("y", yln), axref("y", yrn)
    n = min(len(GRAY_X), len(p["gray"]))
    fig.add_trace(go.Scatter(x=GRAY_X[:n], y=p["gray"][:n], mode="markers",
                             marker=dict(symbol="circle", size=6.5, color="#D3D3D3", line=dict(width=0)),
                             xaxis=xr, yaxis=ylr, showlegend=False, hoverinfo="skip"))
    fig.add_trace(go.Scatter(x=p["cx"], y=p["cy"], mode="markers",
                             marker=dict(symbol="x-thin", size=6, color="black",
                                         line=dict(width=1, color="black")),
                             xaxis=xr, yaxis=ylr, showlegend=False, hoverinfo="skip"))
    fig.add_trace(go.Scatter(x=p["ox"], y=p["oy"], mode="markers",
                             marker=dict(symbol="circle-open", size=6, color="black",
                                         line=dict(width=1, color="black")),
                             xaxis=xr, yaxis=ylr, showlegend=False, hoverinfo="skip"))
    for cxs, cys, kind in p["curves"]:
        ln = dict(color="black", width=1.2, dash=B_DASH[kind], shape=p["shape"])
        if p["shape"] == "spline":
            ln["smoothing"] = 1.0
        fig.add_trace(go.Scatter(x=cxs, y=cys, mode="lines", line=ln,
                                 xaxis=xr, yaxis=yrr, showlegend=False, hoverinfo="skip"))
    x0, x1 = B_COLS[c]
    t, b = B_ROWS[r]
    lay[axname("x", xn)] = dict(domain=dx(x0, x1), anchor=ylr, range=[-25, 525], tickvals=X_TICKS,
                                ticks="outside", ticklen=3, tickcolor=TICKC, showline=True, mirror=True,
                                linecolor=BORDER_B, linewidth=1, showgrid=True, gridcolor=GRID, gridwidth=1,
                                minor=dict(tickvals=X_MINOR, showgrid=True, gridcolor=GRID_MINOR, ticks=""),
                                zeroline=False, tickfont=TICKFONT)
    lay[axname("y", yln)] = dict(domain=dy(t, b), anchor=xr, range=p["yl"], tickvals=p["yt"],
                                 ticks="outside", ticklen=3, tickcolor=TICKC, showline=True, mirror=True,
                                 linecolor=BORDER_B, linewidth=1, showgrid=True, gridcolor=GRID, gridwidth=1,
                                 minor=dict(tickvals=p["ym"], showgrid=True, gridcolor=GRID_MINOR, ticks=""),
                                 zeroline=False, tickfont=TICKFONT)
    lay[axname("y", yrn)] = dict(overlaying=ylr, side="right", anchor=xr, range=p["yr"], tickvals=p["rt"],
                                 ticks="outside", ticklen=3, tickcolor=TICKC, showline=False,
                                 showgrid=False, zeroline=False, tickfont=TICKFONT)
    for v in THRESHOLDS:
        shapes.append(dict(type="line", xref=xr, yref=f"{ylr} domain", x0=v, x1=v, y0=0, y1=1,
                           line=dict(color="#A6A6A6", width=1, dash="4px,3px"), layer="above"))
    add_text(p["name"], (x0 + x1) / 2, b + 26, size=13)
    if r == 0:
        add_text(f"Experiment {c + 1}", (x0 + x1) / 2, 249, size=14)
    if c == 0:
        add_text("-log(Abudance)", 8, (t + b) / 2, size=13, angle=-90)
    if c == 2:
        add_text("-log(Delta)", 659, (t + b) / 2, size=13, angle=90)

add_text("(B)", 6, 249, size=15, bold=True, xanchor="left")

fig.update_layout(width=W, height=H, margin=dict(l=0, r=0, t=0, b=0),
                  paper_bgcolor="white", plot_bgcolor="white", showlegend=False,
                  font=dict(family=FONT, color="black"),
                  annotations=anns, shapes=shapes, **lay)

fig.write_html("out.html", config={"displayModeBar": False},
               post_script="document.body.style.margin='0px';document.body.style.padding='0px';")
